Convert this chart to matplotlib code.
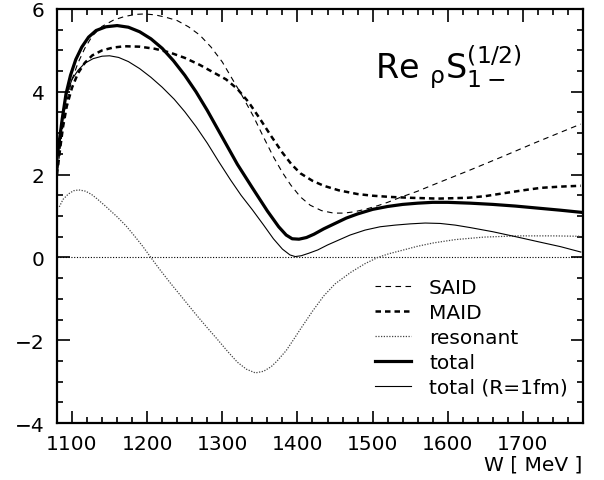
import matplotlib
matplotlib.use("Agg")
import matplotlib.pyplot as plt
from matplotlib.ticker import MultipleLocator

# ---- data ----
w_total = [1080, 1083, 1087, 1092, 1098, 1105, 1113, 1122, 1132, 1145, 1160, 1175, 1190,
           1205, 1220, 1235, 1250, 1265, 1280, 1300, 1320, 1340, 1360, 1375, 1385, 1393,
           1402, 1412, 1422, 1435, 1450, 1465, 1480, 1500, 1520, 1540, 1560, 1580, 1600,
           1630, 1660, 1690, 1720, 1750, 1777]
y_total = [2.4, 2.8, 3.35, 3.95, 4.4, 4.78, 5.08, 5.32, 5.48, 5.57, 5.6, 5.56, 5.45,
           5.28, 5.05, 4.75, 4.4, 4.0, 3.55, 2.9, 2.25, 1.68, 1.12, 0.74, 0.54, 0.45,
           0.44, 0.48, 0.56, 0.69, 0.82, 0.95, 1.05, 1.16, 1.23, 1.28, 1.31, 1.33, 1.33,
           1.31, 1.28, 1.24, 1.19, 1.14, 1.09]

w_r1 = [1080, 1084, 1088, 1093, 1100, 1108, 1117, 1128, 1140, 1150, 1162, 1175, 1190,
        1205, 1220, 1236, 1250, 1265, 1280, 1295, 1311, 1325, 1340, 1355, 1368, 1380,
        1390, 1397, 1405, 1415, 1427, 1440, 1455, 1470, 1490, 1510, 1530, 1550, 1570,
        1590, 1610, 1630, 1660, 1693, 1720, 1750, 1777]
y_r1 = [2.3, 3.0, 3.55, 3.95, 4.3, 4.52, 4.69, 4.8, 4.86, 4.87, 4.83, 4.73, 4.56,
        4.35, 4.11, 3.82, 3.52, 3.16, 2.76, 2.32, 1.87, 1.5, 1.15, 0.78, 0.45, 0.2,
        0.06, 0.02, 0.04, 0.1, 0.18, 0.3, 0.42, 0.54, 0.66, 0.74, 0.78, 0.81, 0.83,
        0.82, 0.78, 0.72, 0.62, 0.49, 0.38, 0.26, 0.13]

w_maid = [1080, 1084, 1088, 1093, 1100, 1108, 1117, 1127, 1140, 1155, 1170, 1190, 1210,
          1230, 1250, 1270, 1290, 1305, 1320, 1335, 1350, 1365, 1380, 1392, 1404, 1420,
          1435, 1455, 1480, 1500, 1524, 1550, 1587, 1627, 1650, 1671, 1700, 1724, 1750,
          1777]
y_maid = [2.0, 2.6, 3.15, 3.65, 4.1, 4.45, 4.7, 4.88, 5.0, 5.07, 5.1, 5.09, 5.04,
          4.95, 4.82, 4.65, 4.45, 4.3, 4.07, 3.75, 3.35, 2.93, 2.53, 2.25, 2.03, 1.85,
          1.73, 1.62, 1.53, 1.49, 1.46, 1.44, 1.42, 1.44, 1.48, 1.54, 1.62, 1.68, 1.71,
          1.73]

w_said = [1080, 1084, 1088, 1094, 1100, 1108, 1117, 1127, 1140, 1155, 1170, 1185, 1196,
          1210, 1225, 1240, 1255, 1270, 1285, 1300, 1311, 1325, 1341, 1355, 1368, 1380,
          1391, 1404, 1417, 1432, 1448, 1462, 1475, 1490, 1507, 1520, 1537, 1560, 1587,
          1627, 1671, 1715, 1750, 1777]
y_said = [1.9, 2.6, 3.2, 3.85, 4.3, 4.7, 5.05, 5.35, 5.58, 5.73, 5.82, 5.87, 5.88,
          5.86, 5.8, 5.72, 5.57, 5.37, 5.08, 4.72, 4.38, 3.95, 3.42, 2.9, 2.43, 2.05,
          1.75, 1.46, 1.26, 1.13, 1.07, 1.07, 1.10, 1.16, 1.25, 1.33, 1.45, 1.6, 1.8,
          2.09, 2.42, 2.76, 3.02, 3.22]

w_res = [1083, 1088, 1095, 1102, 1109, 1118, 1126, 1133, 1145, 1160, 1172, 1183, 1194,
         1204, 1215, 1230, 1248, 1265, 1280, 1293, 1307, 1320, 1332, 1344, 1355, 1365,
         1373, 1385, 1395, 1404, 1420, 1435, 1450, 1471, 1490, 1507, 1522, 1537, 1560,
         1581, 1610, 1648, 1693, 1740, 1777]
y_res = [1.22, 1.4, 1.53, 1.61, 1.63, 1.6, 1.52, 1.42, 1.23, 0.98, 0.76, 0.52, 0.27,
         0.02, -0.25, -0.6, -1.0, -1.38, -1.7, -1.97, -2.27, -2.53, -2.7, -2.79, -2.75, -2.64,
         -2.5, -2.25, -1.98, -1.73, -1.3, -0.93, -0.64, -0.36, -0.15, 0.0, 0.09, 0.16, 0.27,
         0.35, 0.43, 0.49, 0.52, 0.52, 0.51]

legend_labels = ["SAID", "MAID", "resonant", "total", "total (R=1fm)"]

plt.rcParams['font.family'] = ['DejaVu Sans']
plt.rcParams['mathtext.default'] = 'regular'

fig = plt.figure(figsize=(6.04, 4.81), dpi=100)
ax = fig.add_axes([57/604, 1-424/481, (583-57)/604, (424-10)/481])

ax.axhline(0, color='black', lw=0.8, ls=(0, (1, 1.5)))
l_said, = ax.plot(w_said, y_said, color='black', lw=0.8, ls=(0, (5, 4)))
l_maid, = ax.plot(w_maid, y_maid, color='black', lw=1.8, ls=(0, (2.2, 1.6)))
l_res, = ax.plot(w_res, y_res, color='#444444', lw=0.9, ls=(0, (1, 1.2)))
l_tot, = ax.plot(w_total, y_total, color='black', lw=2.3)
l_r1, = ax.plot(w_r1, y_r1, color='black', lw=0.8)

ax.set_xlim(1080, 1780)
ax.set_ylim(-4, 6)
ax.xaxis.set_major_locator(MultipleLocator(100))
ax.xaxis.set_minor_locator(MultipleLocator(20))
ax.yaxis.set_major_locator(MultipleLocator(2))
ax.yaxis.set_minor_locator(MultipleLocator(0.5))
ax.tick_params(which='both', direction='in', top=True, right=True, width=1.2, labelsize=14.5)
ax.tick_params(which='major', length=9)
ax.tick_params(which='minor', length=4.5)
for s in ax.spines.values():
    s.set_linewidth(1.6)
ax.tick_params(axis='x', pad=8)
ax.tick_params(axis='y', pad=9)

leg = ax.legend([l_said, l_maid, l_res, l_tot, l_r1], legend_labels,
                loc='lower right', bbox_to_anchor=(1.0, 0.0), frameon=False,
                fontsize=14.5, handlelength=1.8, handletextpad=0.9, labelspacing=0.3,
                borderaxespad=0.6)
leg.set_bbox_to_anchor((1.0 + 5/526, 6/414), transform=ax.transAxes)

ax.text(0.745, 0.862, r'Re $_{\rho}S_{1-}^{(1/2)}$', transform=ax.transAxes,
        fontsize=24, ha='center', va='center')
fig.text(582/604, 1-465/481, 'W [ MeV ]', ha='right', va='center', fontsize=14.5)

fig.savefig('out.png', dpi=100)
